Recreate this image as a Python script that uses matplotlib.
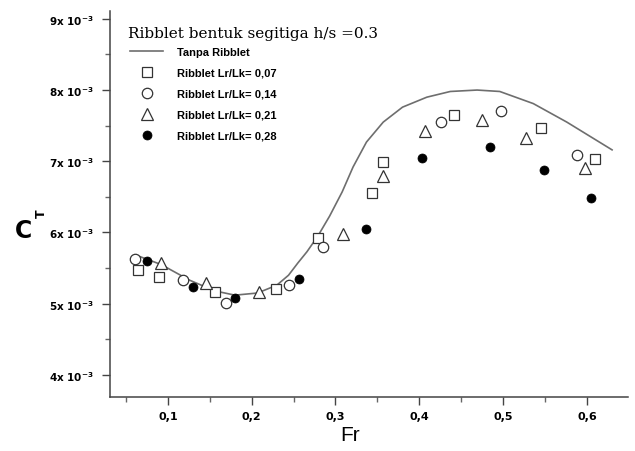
import matplotlib
matplotlib.use("Agg")
import matplotlib.pyplot as plt
from matplotlib.ticker import MultipleLocator, FuncFormatter
from matplotlib.lines import Line2D

# ---- data (C_T in units of 1e-3) ----
fr_smooth = [0.067, 0.092, 0.126, 0.156, 0.180, 0.207, 0.230, 0.244, 0.255, 0.266,
             0.279, 0.293, 0.308, 0.321, 0.337, 0.357, 0.380, 0.409, 0.437, 0.469,
             0.496, 0.536, 0.576, 0.630]
ct_smooth = [5.66, 5.55, 5.33, 5.18, 5.12, 5.15, 5.26, 5.40, 5.57, 5.73,
             5.95, 6.23, 6.57, 6.92, 7.27, 7.55, 7.76, 7.90, 7.98, 8.00,
             7.98, 7.81, 7.55, 7.16]

fr_007 = [0.064, 0.089, 0.156, 0.229, 0.279, 0.343, 0.357, 0.441, 0.545, 0.610]
ct_007 = [5.48, 5.38, 5.17, 5.21, 5.92, 6.56, 6.99, 7.65, 7.47, 7.03]

fr_014 = [0.061, 0.118, 0.169, 0.244, 0.285, 0.426, 0.497, 0.588]
ct_014 = [5.63, 5.33, 5.01, 5.26, 5.80, 7.55, 7.71, 7.09]

fr_021 = [0.092, 0.145, 0.209, 0.309, 0.357, 0.407, 0.475, 0.527, 0.598]
ct_021 = [5.57, 5.29, 5.17, 5.98, 6.80, 7.43, 7.58, 7.33, 6.91]

fr_028 = [0.075, 0.130, 0.180, 0.256, 0.336, 0.403, 0.484, 0.549, 0.605]
ct_028 = [5.60, 5.24, 5.08, 5.35, 6.05, 7.05, 7.20, 6.88, 6.49]

labels = ["Tanpa Ribblet", "Ribblet Lr/Lk= 0,07", "Ribblet Lr/Lk= 0,14",
          "Ribblet Lr/Lk= 0,21", "Ribblet Lr/Lk= 0,28"]
title = "Ribblet bentuk segitiga h/s =0.3"

plt.rcParams["mathtext.default"] = "bf"
W, H = 635, 452
fig = plt.figure(figsize=(W / 100, H / 100), dpi=100)
ax = fig.add_axes([110 / W, 1 - 398 / H, (628 - 110) / W, (398 - 12) / H])

ax.plot(fr_smooth, ct_smooth, color="#6e6e6e", lw=1.2)
ax.plot(fr_007, ct_007, ls="none", marker="s", ms=7, mfc="white", mec="#333333", mew=0.9)
ax.plot(fr_014, ct_014, ls="none", marker="o", ms=7.5, mfc="white", mec="#333333", mew=0.9)
ax.plot(fr_021, ct_021, ls="none", marker="^", ms=9, mfc="white", mec="#333333", mew=0.9)
ax.plot(fr_028, ct_028, ls="none", marker="o", ms=6.5, mfc="black", mec="black", mew=0.5)

ax.set_xlim(0.031, 0.649)
ax.set_ylim(3.69, 9.11)
for s in ("top", "right"):
    ax.spines[s].set_visible(False)
for s in ("left", "bottom"):
    ax.spines[s].set_color("#444444")
    ax.spines[s].set_linewidth(1.1)

ax.xaxis.set_major_locator(MultipleLocator(0.1))
ax.xaxis.set_minor_locator(MultipleLocator(0.05))
ax.yaxis.set_major_locator(MultipleLocator(1))
ax.yaxis.set_minor_locator(MultipleLocator(0.5))
ax.xaxis.set_major_formatter(FuncFormatter(lambda v, p: f"{v:.1f}".replace(".", ",")))
ax.yaxis.set_major_formatter(FuncFormatter(lambda v, p: f"{int(round(v))}x 10$^{{-3}}$"))
ax.tick_params(which="major", direction="out", length=6, width=1, color="#444444")
ax.tick_params(which="minor", direction="out", length=3.5, width=1, color="#666666")
ax.tick_params(axis="x", which="major", pad=4, labelsize=8)
ax.tick_params(axis="y", which="major", pad=6, labelsize=7.5)
for t in ax.get_xticklabels() + ax.get_yticklabels():
    t.set_fontweight("bold")

# axis labels
fig.text(350 / W, 1 - 436 / H, "Fr", fontsize=15, ha="center", va="center",
         family="Liberation Sans")
fig.text(23 / W, 1 - 231 / H, "C", fontsize=17, fontweight="bold", ha="center", va="center",
         family="DejaVu Sans")
fig.text(41 / W, 1 - 214 / H, "T", fontsize=9, fontweight="bold", rotation=90,
         ha="center", va="center", family="DejaVu Sans")

# title
fig.text(128 / W, 1 - 34 / H, title, fontsize=11, ha="left", va="center",
         family="DejaVu Serif")

handles = [
    Line2D([], [], color="#6e6e6e", lw=1.2),
    Line2D([], [], ls="none", marker="s", ms=7, mfc="white", mec="#333333", mew=0.9),
    Line2D([], [], ls="none", marker="o", ms=7.5, mfc="white", mec="#333333", mew=0.9),
    Line2D([], [], ls="none", marker="^", ms=9, mfc="white", mec="#333333", mew=0.9),
    Line2D([], [], ls="none", marker="o", ms=6.5, mfc="black", mec="black", mew=0.5),
]
leg = ax.legend(handles, labels, loc="upper left", bbox_to_anchor=(130 / W, 1 - 48 / H),
                bbox_transform=fig.transFigure, frameon=False,
                prop={"family": "Liberation Sans", "weight": "bold", "size": 8},
                handlelength=3.0, handletextpad=1.25, labelspacing=0.98,
                borderpad=0, borderaxespad=0)

fig.savefig("out.png", dpi=100, facecolor="white")
